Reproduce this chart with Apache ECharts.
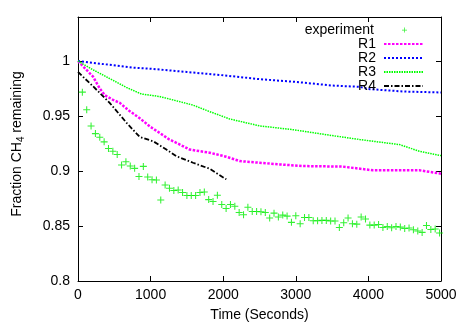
<!DOCTYPE html>
<html><head><meta charset="utf-8">
<script src="https://cdn.jsdelivr.net/npm/echarts@6/dist/echarts.min.js"></script>
<style>html,body{margin:0;padding:0;background:#fff}#c{width:467px;height:327px}</style>
</head><body><div id="c"></div>
<script>
// experiment: sampled every 60 s starting at 60 s
var expTimes = [60,120,180,240,300,360,420,480,540,600,660,720,780,840,900,960,1020,1080,1140,1200,1260,1320,1380,1440,1500,1560,1620,1680,1740,1800,1860,1920,1980,2040,2100,2160,2220,2280,2340,2400,2460,
 2520,2580,2640,2700,2760,2820,2880,2940,3000,3060,3120,3180,3240,3300,3360,3420,3480,3540,3600,3660,3720,3780,3840,3900,3960,4020,4080,4140,4200,4260,4320,4380,4440,4500,4560,4620,4680,4740,4800,4860,4920,4980];
var expValues = [0.9717,0.9557,0.941,0.934,0.9307,0.9265,0.9204,0.918,0.915,0.9054,0.9084,0.9045,0.9024,0.895,0.9042,0.8945,0.892,0.8918,0.8737,0.8873,0.8843,0.8822,0.8828,0.8804,0.8777,0.8777,0.8777,0.8804,0.881,0.874,0.8723,0.878,0.8695,0.866,0.8695,0.868,0.8623,0.8602,0.867,0.8632,0.8632,
 0.8629,0.8623,0.8572,0.8617,0.8581,0.8599,0.859,0.8533,0.8593,0.852,0.8578,0.8578,0.8548,0.8548,0.8551,0.8551,0.8545,0.8545,0.8487,0.8529,0.8572,0.852,0.8517,0.8581,0.8563,0.8508,0.8508,0.8514,0.8487,0.8496,0.8484,0.8496,0.849,0.8478,0.8481,0.8466,0.8454,0.8442,0.8505,0.8469,0.8472,0.8436];

var r1Times = [0,100,207,300,368,482,574,700,850,1000,1125,1250,1355,1538,1814,2043,2227,2502,2777,3098,3649,4062,4705,5000];
var r1Values = [1.0,0.993,0.9858,0.975,0.969,0.9647,0.962,0.955,0.948,0.940,0.9346,0.929,0.9256,0.9195,0.9166,0.913,0.909,0.9075,0.906,0.9045,0.904,0.9006,0.9006,0.8976];

var r2Times = [0,750,1000,1500,2000,2500,3000,3500,3880,4000,4500,5000];
var r2Values = [1.0,0.994,0.993,0.990,0.987,0.9835,0.981,0.9777,0.9765,0.9745,0.9722,0.9714];

var r3Times = [0,207,438,666,873,1125,1580,1813,2089,2502,2957,3420,3880,4430,4700,5000];
var r3Values = [1.0,0.992,0.984,0.976,0.970,0.9677,0.960,0.954,0.9473,0.941,0.9376,0.933,0.9286,0.924,0.918,0.914];

var r4Times = [0,207,436,666,850,1037,1217,1355,1585,1814,2043];
var r4Values = [0.990,0.977,0.962,0.944,0.931,0.927,0.9195,0.9135,0.9075,0.902,0.8924];

var xTicks = [0,1000,2000,3000,4000,5000];
var yTicks = [0.8,0.85,0.9,0.95,1];

function pairs(t, v){ return t.map(function(x,i){ return [x, v[i]]; }); }

var FONT = 'Liberation Sans';
var FS = 14;
var plusPath = 'path://M4.25,0H5.75V10H4.25Z M0,4.25H10V5.75H0Z';

var legendNames = ['experiment','R1','R2','R3','R4'];
var legendTops = [23,37,51,65,79];
var legends = legendNames.map(function(n,i){
  var isExp = i === 0;
  return {
    data: isExp ? [{name:n, icon: plusPath}] : [n],
    orient: 'vertical',
    align: 'right',
    right: isExp ? 60 : 43,
    top: legendTops[i],
    padding: 0,
    itemWidth: isExp ? 5 : 39,
    itemHeight: isExp ? 5 : 14,
    selectedMode: false,
    itemStyle: isExp ? {} : {color: 'transparent', borderColor: 'transparent', borderWidth: 0},
    textStyle: {fontFamily: FONT, fontSize: FS, color: '#000', padding: isExp ? [0,23,0,0] : [0,3,0,0]}
  };
});

var axisCommon = {
  axisLine: {show: true, onZero: false, lineStyle: {color: '#000', width: 1}},
  axisTick: {show: true, inside: true, length: 5, lineStyle: {color: '#000'}},
  splitLine: {show: false}
};

var option = {
  animation: false,
  backgroundColor: '#fff',
  grid: {left: 78, right: 26, top: 17, bottom: 46, containLabel: false},
  legend: legends,
  xAxis: [
    Object.assign({}, axisCommon, {
      type: 'value', min: 0, max: 5000, interval: 1000, position: 'bottom',
      name: 'Time (Seconds)', nameLocation: 'middle', nameGap: 27,
      nameTextStyle: {fontFamily: FONT, fontSize: FS, color: '#000'},
      axisLabel: {fontFamily: FONT, fontSize: FS, color: '#000', margin: 7,
        formatter: function(v){ return xTicks.indexOf(v) >= 0 ? String(v) : ''; }}
    }),
    Object.assign({}, axisCommon, {
      type: 'value', min: 0, max: 5000, interval: 1000, position: 'top',
      axisLabel: {show: false}
    })
  ],
  yAxis: [
    Object.assign({}, axisCommon, {
      type: 'value', min: 0.8, max: 1.04, interval: 0.05, position: 'left',
      name: 'Fraction CH{sub|4} remaining', nameLocation: 'middle', nameGap: 52, nameRotate: 90,
      nameTextStyle: {fontFamily: FONT, fontSize: FS, color: '#000', padding: [0,0,0,10],
        rich: {sub: {fontFamily: FONT, fontSize: 10, color: '#000', verticalAlign: 'bottom', padding: [7,0,0,0]}}},
      axisLabel: {fontFamily: FONT, fontSize: FS, color: '#000', margin: 8, showMaxLabel: false,
        formatter: function(v){
          for (var i=0;i<yTicks.length;i++){ if (Math.abs(yTicks[i]-v) < 1e-6) return String(yTicks[i]); }
          return '';
        }}
    }),
    Object.assign({}, axisCommon, {
      type: 'value', min: 0.8, max: 1.04, interval: 0.05, position: 'right',
      axisLabel: {show: false}
    })
  ],
  series: [
    {name: 'experiment', type: 'scatter', data: pairs(expTimes, expValues),
     symbol: plusPath, symbolSize: 7, itemStyle: {color: '#00ee00'}},
    {name: 'R1', type: 'line', data: pairs(r1Times, r1Values), showSymbol: false, symbol: 'none',
     lineStyle: {color: '#ff00ff', width: 2.5, type: [2.5,1.5]}, itemStyle: {color: '#ff00ff'}},
    {name: 'R2', type: 'line', data: pairs(r2Times, r2Values), showSymbol: false, symbol: 'none',
     lineStyle: {color: '#0000ff', width: 2, type: [2,2]}, itemStyle: {color: '#0000ff'}},
    {name: 'R3', type: 'line', data: pairs(r3Times, r3Values), showSymbol: false, symbol: 'none',
     lineStyle: {color: '#00ff00', width: 1.5, type: [1.5,1]}, itemStyle: {color: '#00ff00'}},
    {name: 'R4', type: 'line', data: pairs(r4Times, r4Values), showSymbol: false, symbol: 'none',
     lineStyle: {color: '#000000', width: 1.8, type: [5,2,1.5,2]}, itemStyle: {color: '#000000'}}
  ]
};
var chart = echarts.init(document.getElementById('c'), null, {renderer: 'canvas'});
chart.setOption(option);
</script>
</body></html>
